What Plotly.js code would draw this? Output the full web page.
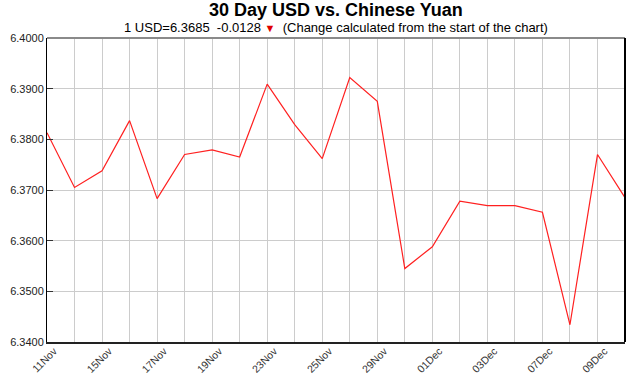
<!DOCTYPE html>
<html>
<head>
<meta charset="utf-8">
<script src="https://cdn.plot.ly/plotly-3.0.1.min.js"></script>
<style>html,body{margin:0;padding:0;background:#fff;}#chart{width:633px;height:375px;}</style>
</head>
<body>
<div id="chart"></div>
<script>
const dates = ['11Nov','12Nov','15Nov','16Nov','17Nov','18Nov','19Nov','22Nov','23Nov','24Nov','25Nov','26Nov','29Nov','30Nov','01Dec','02Dec','03Dec','06Dec','07Dec','08Dec','09Dec','10Dec'];
const rates = [6.3813,6.3705,6.3738,6.3837,6.3683,6.3770,6.3779,6.3765,6.3909,6.3829,6.3762,6.3922,6.3875,6.3545,6.3588,6.3678,6.3669,6.3669,6.3656,6.3434,6.3770,6.3685];
const tickLabels = ['11Nov','15Nov','17Nov','19Nov','23Nov','25Nov','29Nov','01Dec','03Dec','07Dec','09Dec'];
const yTicks = [6.34,6.35,6.36,6.37,6.38,6.39,6.40];

const ticktext = dates.map(d => tickLabels.includes(d) ? d : '');

Plotly.newPlot('chart', [{
  x: dates, y: rates, type: 'scatter', mode: 'lines',
  line: {color: '#ff2020', width: 1.2}, hoverinfo: 'none'
}], {
  width: 633, height: 375,
  margin: {l: 47, r: 8, t: 38, b: 33},
  paper_bgcolor: '#fff', plot_bgcolor: '#fff',
  showlegend: false,
  font: {family: 'Liberation Sans, Arial, sans-serif', color: '#222'},
  annotations: [
    {text: '<b>30 Day USD vs. Chinese Yuan</b>', xref: 'paper', yref: 'paper', x: 0.5, xanchor: 'center',
     y: 1, yshift: 40, yanchor: 'top', showarrow: false, font: {size: 18, color: '#000'}},
    {text: '1 USD=6.3685  -0.0128 <span style="color:#e00000;font-size:11px">▼</span>  (Change calculated from the start of the chart)',
     xref: 'paper', yref: 'paper', x: 0.5, xanchor: 'center', y: 1, yshift: 20, yanchor: 'top',
     showarrow: false, font: {size: 13, color: '#000'}}
  ],
  xaxis: {
    type: 'category', range: [0, dates.length - 1],
    tickvals: dates, ticktext: ticktext, tickangle: -45,
    tickfont: {size: 10.5, color: '#333'},
    showgrid: true, gridcolor: '#cccccc', gridwidth: 1,
    showline: true, linecolor: '#222', linewidth: 2,
    ticks: '', ticklabelstandoff: -3, ticklabelshift: 7,
    zeroline: false, fixedrange: true, automargin: false
  },
  yaxis: {
    range: [6.34, 6.40], tickvals: yTicks,
    tickformat: '.4f', tickfont: {size: 11, color: '#222'},
    showgrid: true, gridcolor: '#cccccc', gridwidth: 1,
    showline: true, linecolor: '#000', linewidth: 1,
    ticks: 'inside', ticklen: 6, tickcolor: '#333',
    zeroline: false, fixedrange: true
  },
  shapes: [
    {type: 'line', xref: 'paper', yref: 'paper', x0: 0, x1: 1, y0: 1, y1: 1, line: {color: '#8a8a8a', width: 2}},
    {type: 'line', xref: 'paper', yref: 'paper', x0: 1, x1: 1, y0: 0, y1: 1, line: {color: '#000', width: 2}}
  ]
}, {displayModeBar: false, staticPlot: true});
</script>
</body>
</html>
